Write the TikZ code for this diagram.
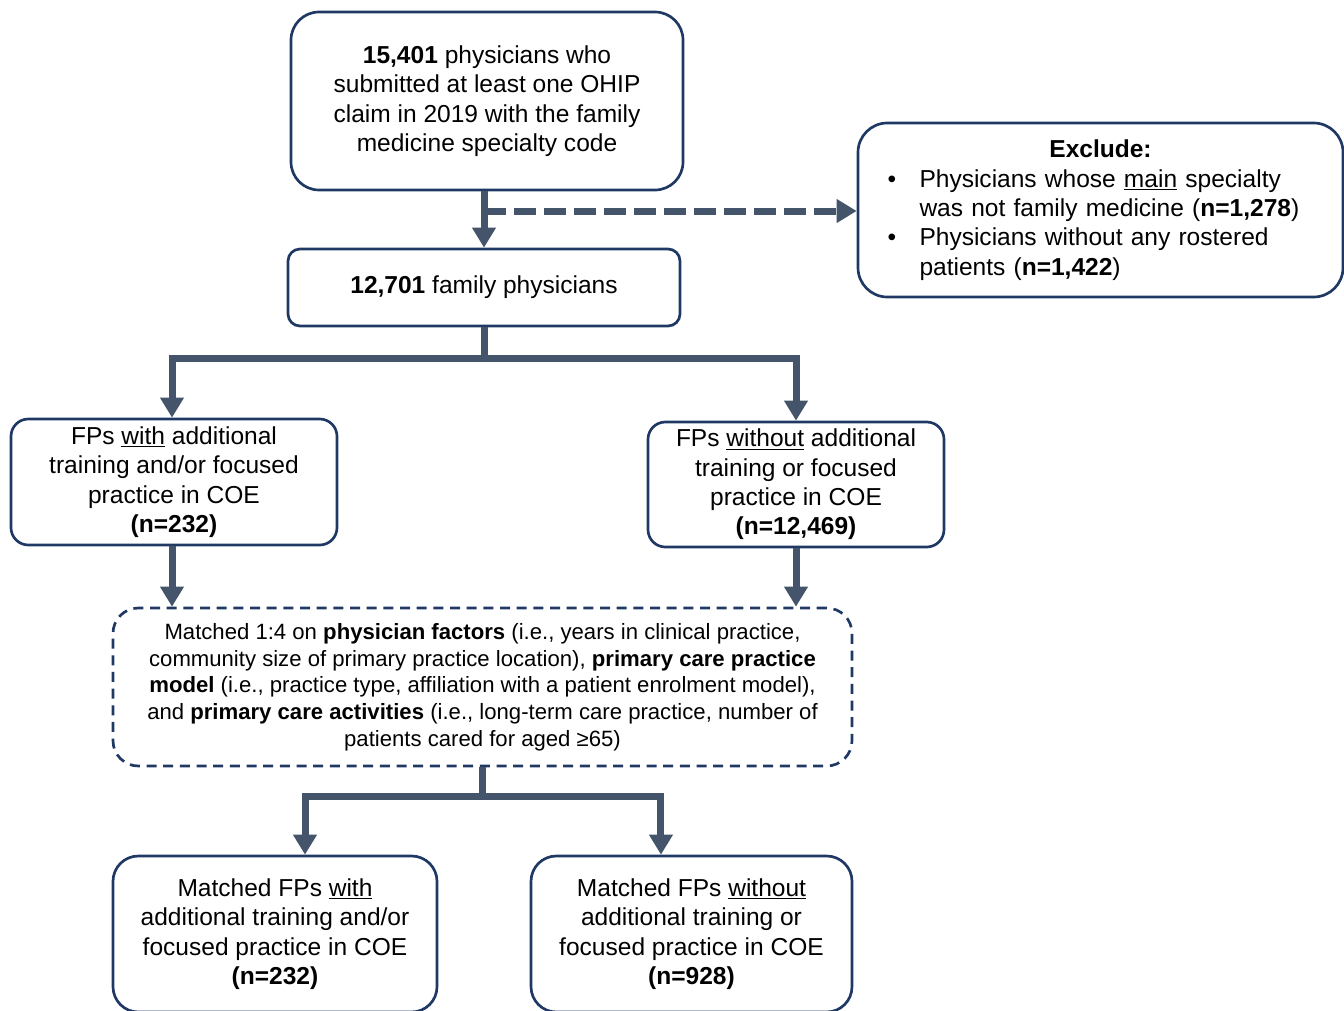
\documentclass[tikz,border=0pt]{standalone}
\usepackage{fontspec}
\setmainfont{Liberation Sans}
\usetikzlibrary{arrows.meta,calc}
\definecolor{arrc}{HTML}{44546A}
\definecolor{boxc}{HTML}{1F3864}
\newcommand\pxu{0.75pt}
\begin{document}
\begin{tikzpicture}[x=0.75pt,y=-0.75pt,
  box/.style={draw=boxc, line width=2pt, align=center, inner sep=0pt,
    font=\fontsize{18.4}{22}\selectfont},
  arr/.style={draw=arrc, line width=5.25pt, -{Triangle[width=17pt,length=15pt]}},
  dasharr/.style={arr, dash pattern=on 16.5pt off 6pt},
  dbox/.style={box, dash pattern=on 7.5pt off 5pt, font=\fontsize{16.6}{20}\selectfont}]
\useasboundingbox (0,0) rectangle (1344,1010);

\node[box, rounded corners=21pt, minimum width=392*\pxu, minimum height=178*\pxu] (top) at (487,101)
  {\textbf{15,401} physicians who\\submitted at least one OHIP\\claim in 2019 with the family\\medicine specialty code};

\node[box, rounded corners=9pt, minimum width=392*\pxu, minimum height=77*\pxu] (mid) at (484,287.5)
  {\textbf{12,701} family physicians};

\node[box, rounded corners=22pt, minimum width=485*\pxu, minimum height=174*\pxu, text width=426*\pxu, align=left] (excl) at (1100.5,210)
  {\centering\textbf{Exclude:}\par
   \raggedright
   \makebox[24pt][l]{\textbullet}Physicians whose \underline{main} specialty\\
   \hspace*{24pt}was not family medicine (\textbf{n=1,278})\\
   \makebox[24pt][l]{\textbullet}Physicians without any rostered\\
   \hspace*{24pt}patients (\textbf{n=1,422})\par};

\node[box, rounded corners=13pt, minimum width=326*\pxu, minimum height=126*\pxu] (fpw) at (174,482)
  {FPs \underline{with} additional\\training and/or focused\\practice in COE\\\textbf{(n=232)}};

\node[box, rounded corners=13pt, minimum width=296*\pxu, minimum height=125*\pxu] (fpwo) at (796,484.5)
  {FPs \underline{without} additional\\training or focused\\practice in COE\\\textbf{(n=12,469)}};

\node[dbox, rounded corners=19pt, minimum width=739*\pxu, minimum height=158*\pxu] (match) at (482.5,687)
  {Matched 1:4 on \textbf{physician factors} (i.e., years in clinical practice,\\
   community size of primary practice location), \textbf{primary care practice}\\
   \textbf{model} (i.e., practice type, affiliation with a patient enrolment model),\\
   and \textbf{primary care activities} (i.e., long-term care practice, number of\\
   patients cared for aged ≥65)};

\node[box, rounded corners=19pt, minimum width=324*\pxu, minimum height=156*\pxu] (mbl) at (275,934)
  {Matched FPs \underline{with}\\additional training and/or\\focused practice in COE\\\textbf{(n=232)}};

\node[box, rounded corners=19pt, minimum width=321*\pxu, minimum height=156*\pxu] (mbr) at (691.5,934)
  {Matched FPs \underline{without}\\additional training or\\focused practice in COE\\\textbf{(n=928)}};

% connectors
\draw[arr] (top.south -| mid.north) -- (mid.north);
\coordinate (j) at (mid.north |- 0,211);
\draw[dasharr] (j) -- (j -| excl.west);

\coordinate (b1) at ($(mid.south)+(0,31)$);
\draw[arr] (mid.south) -- (b1) -| ([xshift=-1.5pt]fpw.north);
\draw[arr] (b1) -| (fpwo.north);

\draw[arr] ([xshift=-1.5pt]fpw.south) -- ([xshift=-1.5pt]fpw.south |- match.north);
\draw[arr] (fpwo.south) -- (fpwo.south |- match.north);

\coordinate (b2) at ($(match.south)+(0,29)$);
\draw[arr] (match.south) -- (b2) -| ([xshift=22.5pt]mbl.north);
\draw[arr] (b2) -| ([xshift=-22.9pt]mbr.north);
\end{tikzpicture}
\end{document}
